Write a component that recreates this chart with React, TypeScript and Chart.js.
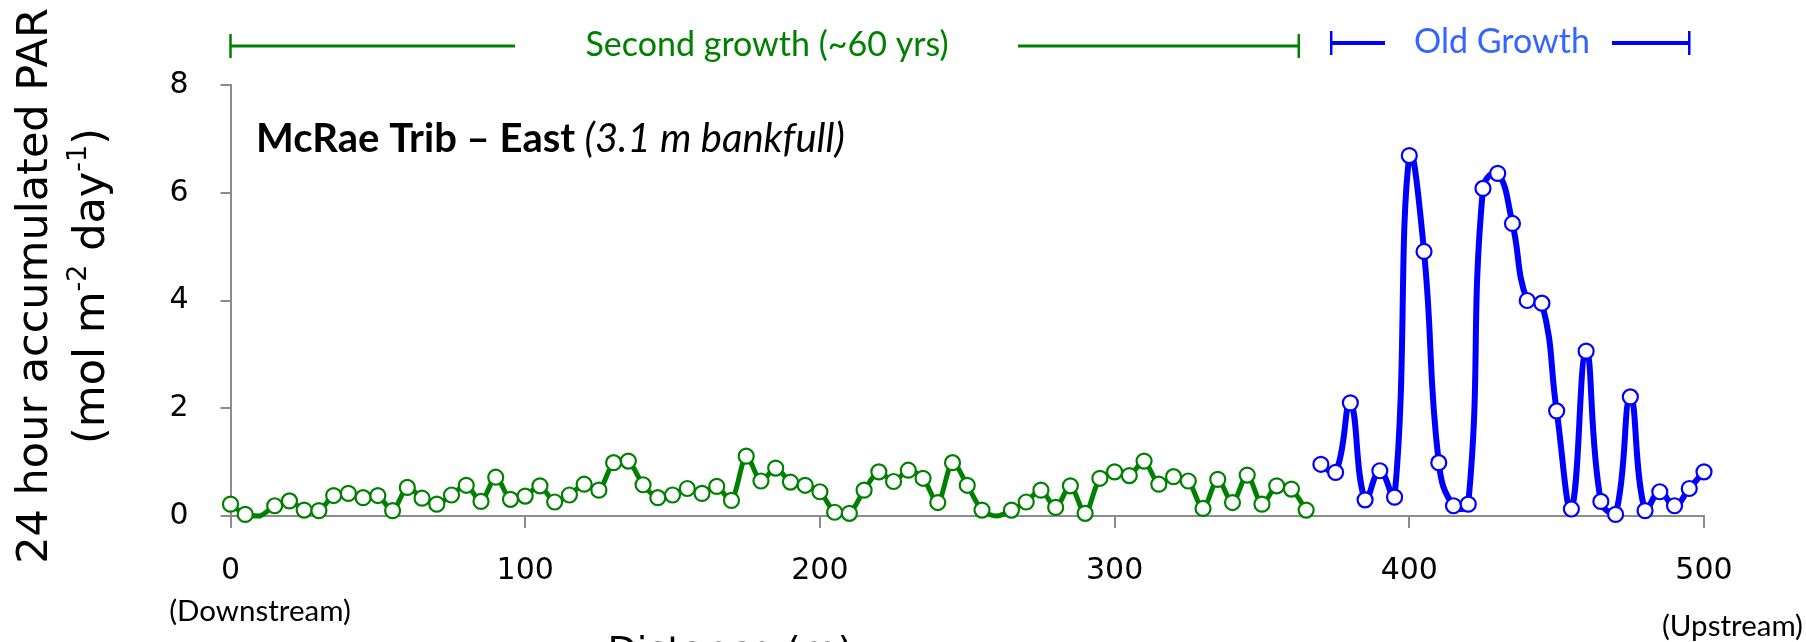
import React, { useEffect, useRef } from "react";
import { Chart, registerables } from "chart.js";

Chart.register(...registerables);

// ---- Data ----
const secondGrowthDistance = [
  0, 5, 10, 15, 20, 25, 30, 35, 40, 45, 50, 55, 60, 65, 70, 75, 80, 85, 90, 95,
  100, 105, 110, 115, 120, 125, 130, 135, 140, 145, 150, 155, 160, 165, 170, 175, 180, 185, 190, 195,
  200, 205, 210, 215, 220, 225, 230, 235, 240, 245, 250, 255, 260, 265, 270, 275, 280, 285, 290, 295,
  300, 305, 310, 315, 320, 325, 330, 335, 340, 345, 350, 355, 360, 365,
];
const secondGrowthPAR = [
  0.22, 0.03, 0.0, 0.19, 0.28, 0.11, 0.1, 0.38, 0.42, 0.34, 0.38, 0.1, 0.53, 0.33, 0.22, 0.39, 0.57, 0.27, 0.72, 0.31,
  0.37, 0.56, 0.26, 0.39, 0.59, 0.48, 0.99, 1.02, 0.58, 0.34, 0.39, 0.51, 0.42, 0.55, 0.29, 1.11, 0.65, 0.89, 0.63, 0.57,
  0.45, 0.07, 0.05, 0.48, 0.82, 0.64, 0.85, 0.7, 0.25, 0.99, 0.57, 0.11, 0.0, 0.11, 0.26, 0.48, 0.16, 0.56, 0.05, 0.7,
  0.82, 0.75, 1.02, 0.59, 0.73, 0.65, 0.14, 0.68, 0.25, 0.76, 0.22, 0.56, 0.5, 0.11,
];
const oldGrowthDistance = [
  370, 375, 380, 385, 390, 395, 400, 405, 410, 415, 420, 425, 430, 435, 440, 445, 450, 455, 460, 465,
  470, 475, 480, 485, 490, 495, 500,
];
const oldGrowthPAR = [
  0.96, 0.81, 2.1, 0.3, 0.84, 0.35, 6.69, 4.91, 0.99, 0.19, 0.22, 6.08, 6.36, 5.43, 4.0, 3.95, 1.95, 0.13, 3.06, 0.27,
  0.03, 2.21, 0.1, 0.45, 0.19, 0.51, 0.82,
];
const xTickValues = [0, 100, 200, 300, 400, 500];
const yTickValues = [0, 2, 4, 6, 8];

const secondGrowthSpan = [0, 362.5];
const oldGrowthSpan = [373.5, 495];

const AXIS_GRAY = "#8c8c8c";
const GREEN = "#008000";
const BLUE = "#0000ff";

const annotationPlugin = {
  id: "annotationPlugin",
  afterDraw(chart: any) {
    const ctx = chart.ctx as CanvasRenderingContext2D;
    const xs = chart.scales.x;
    ctx.save();

    // Y axis title (rotated, two lines, with superscripts)
    ctx.translate(36, 286);
    ctx.rotate(-Math.PI / 2);
    ctx.fillStyle = "#000";
    ctx.textAlign = "left";
    ctx.textBaseline = "middle";
    const bigFont = '43px "DejaVu Sans"';
    const supFont = '27px "DejaVu Sans"';
    ctx.font = bigFont;
    const l1 = "24 hour accumulated PAR";
    const w1 = ctx.measureText(l1).width;
    ctx.fillText(l1, -w1 / 2, 0);
    const segs = [
      { t: "(mol m", s: false },
      { t: "-2", s: true },
      { t: " day", s: false },
      { t: "-1", s: true },
      { t: ")", s: false },
    ];
    let total = 0;
    for (const sg of segs) {
      ctx.font = sg.s ? supFont : bigFont;
      total += ctx.measureText(sg.t).width;
    }
    let px = -total / 2;
    const ly = 57;
    for (const sg of segs) {
      ctx.font = sg.s ? supFont : bigFont;
      ctx.fillText(sg.t, px, sg.s ? ly - 14 : ly);
      px += ctx.measureText(sg.t).width;
    }
    ctx.setTransform(1, 0, 0, 1, 0, 0);

    // Chart title inside plot
    ctx.textBaseline = "alphabetic";
    ctx.textAlign = "left";
    ctx.fillStyle = "#000";
    ctx.font = 'bold 40px "Lato"';
    const tA = "McRae Trib \u2013 East";
    ctx.fillText(tA, 256, 152);
    const wA = ctx.measureText(tA).width;
    ctx.font = 'italic 40px "Lato"';
    ctx.fillText(" (3.1 m bankfull)", 256 + wA, 152);

    // Extra x labels
    ctx.font = '29.5px "Lato"';
    ctx.textAlign = "center";
    ctx.textBaseline = "middle";
    ctx.fillText("(Downstream)", 260, 611);
    ctx.textAlign = "right";
    ctx.fillText("(Upstream)", 1803, 626);

    // X axis title (cut off at bottom)
    ctx.font = '38px "DejaVu Sans"';
    ctx.textAlign = "center";
    ctx.textBaseline = "alphabetic";
    ctx.fillText("Distance (m)", 730, 663);

    // Brackets
    const drawBracket = (
      x0: number,
      x1: number,
      y: number,
      gapL: number,
      gapR: number,
      color: string,
      lw: number,
      label: string,
      labelColor: string,
      labelX: number
    ) => {
      ctx.strokeStyle = color;
      ctx.lineWidth = lw;
      ctx.beginPath();
      ctx.moveTo(x0, y);
      ctx.lineTo(gapL, y);
      ctx.moveTo(gapR, y);
      ctx.lineTo(x1, y);
      ctx.stroke();
      ctx.lineWidth = 2.5;
      ctx.beginPath();
      ctx.moveTo(x0, y - 12);
      ctx.lineTo(x0, y + 12);
      ctx.moveTo(x1, y - 12);
      ctx.lineTo(x1, y + 12);
      ctx.stroke();
      ctx.fillStyle = labelColor;
      ctx.font = '34px "Lato"';
      ctx.textAlign = "center";
      ctx.textBaseline = "middle";
      ctx.fillText(label, labelX, y - 1);
    };
    const gx0 = xs.getPixelForValue(secondGrowthSpan[0]);
    const gx1 = xs.getPixelForValue(secondGrowthSpan[1]);
    drawBracket(gx0, gx1, 46, 515, 1018, GREEN, 3, "Second growth (~60 yrs)", GREEN, 767);
    const bx0 = xs.getPixelForValue(oldGrowthSpan[0]);
    const bx1 = xs.getPixelForValue(oldGrowthSpan[1]);
    drawBracket(bx0, bx1, 43, 1385, 1612, BLUE, 4, "Old Growth", "#3366ff", 1502);

    ctx.restore();
  },
};

export default function App() {
  const ref = useRef<HTMLCanvasElement | null>(null);

  useEffect(() => {
    document.body.style.margin = "0";
    const canvas = ref.current!;
    const pointR = (c: any) => (c.raw && c.raw.y <= 0 ? 0 : 7.5);
    const chart = new Chart(canvas, {
      type: "line",
      data: {
        datasets: [
          {
            label: "Second growth",
            data: secondGrowthDistance.map((d, i) => ({ x: d, y: secondGrowthPAR[i] })),
            borderColor: GREEN,
            borderWidth: 5,
            pointBackgroundColor: "#ffffff",
            pointBorderColor: GREEN,
            pointBorderWidth: 2.2,
            pointRadius: pointR,
            tension: 0.3,
            clip: false,
          },
          {
            label: "Old growth",
            data: oldGrowthDistance.map((d, i) => ({ x: d, y: oldGrowthPAR[i] })),
            borderColor: BLUE,
            borderWidth: 6,
            pointBackgroundColor: "#ffffff",
            pointBorderColor: BLUE,
            pointBorderWidth: 2.2,
            pointRadius: pointR,
            tension: 0.45,
            clip: false,
          },
        ],
      },
      options: {
        responsive: false,
        animation: false,
        devicePixelRatio: 1,
        events: [],
        layout: { padding: { left: 0, top: 85, right: 102, bottom: 0 } },
        plugins: { legend: { display: false }, tooltip: { enabled: false }, title: { display: false } },
        scales: {
          x: {
            type: "linear",
            min: 0,
            max: 500,
            afterFit: (s: any) => {
              s.height = 126;
            },
            afterBuildTicks: (s: any) => {
              s.ticks = xTickValues.map((v) => ({ value: v }));
            },
            ticks: {
              color: "#000",
              font: { family: "DejaVu Sans", size: 30 },
              padding: 25,
              maxRotation: 0,
            },
            grid: {
              display: true,
              drawOnChartArea: false,
              drawTicks: true,
              tickLength: 12,
              color: AXIS_GRAY,
              lineWidth: 2,
            },
            border: { display: true, color: AXIS_GRAY, width: 2 },
          },
          y: {
            type: "linear",
            min: 0,
            max: 8,
            afterFit: (s: any) => {
              s.width = 230.5;
            },
            afterBuildTicks: (s: any) => {
              s.ticks = yTickValues.map((v) => ({ value: v }));
            },
            ticks: {
              color: "#000",
              font: { family: "DejaVu Sans", size: 30 },
              padding: 32,
            },
            grid: {
              display: true,
              drawOnChartArea: false,
              drawTicks: true,
              tickLength: 10,
              color: AXIS_GRAY,
              lineWidth: 2,
            },
            border: { display: true, color: AXIS_GRAY, width: 2 },
          },
        },
      },
      plugins: [annotationPlugin],
    });
    return () => chart.destroy();
  }, []);

  return (
    <canvas
      ref={ref}
      width={1806}
      height={642}
      style={{ display: "block", width: "1806px", height: "642px" }}
    />
  );
}
